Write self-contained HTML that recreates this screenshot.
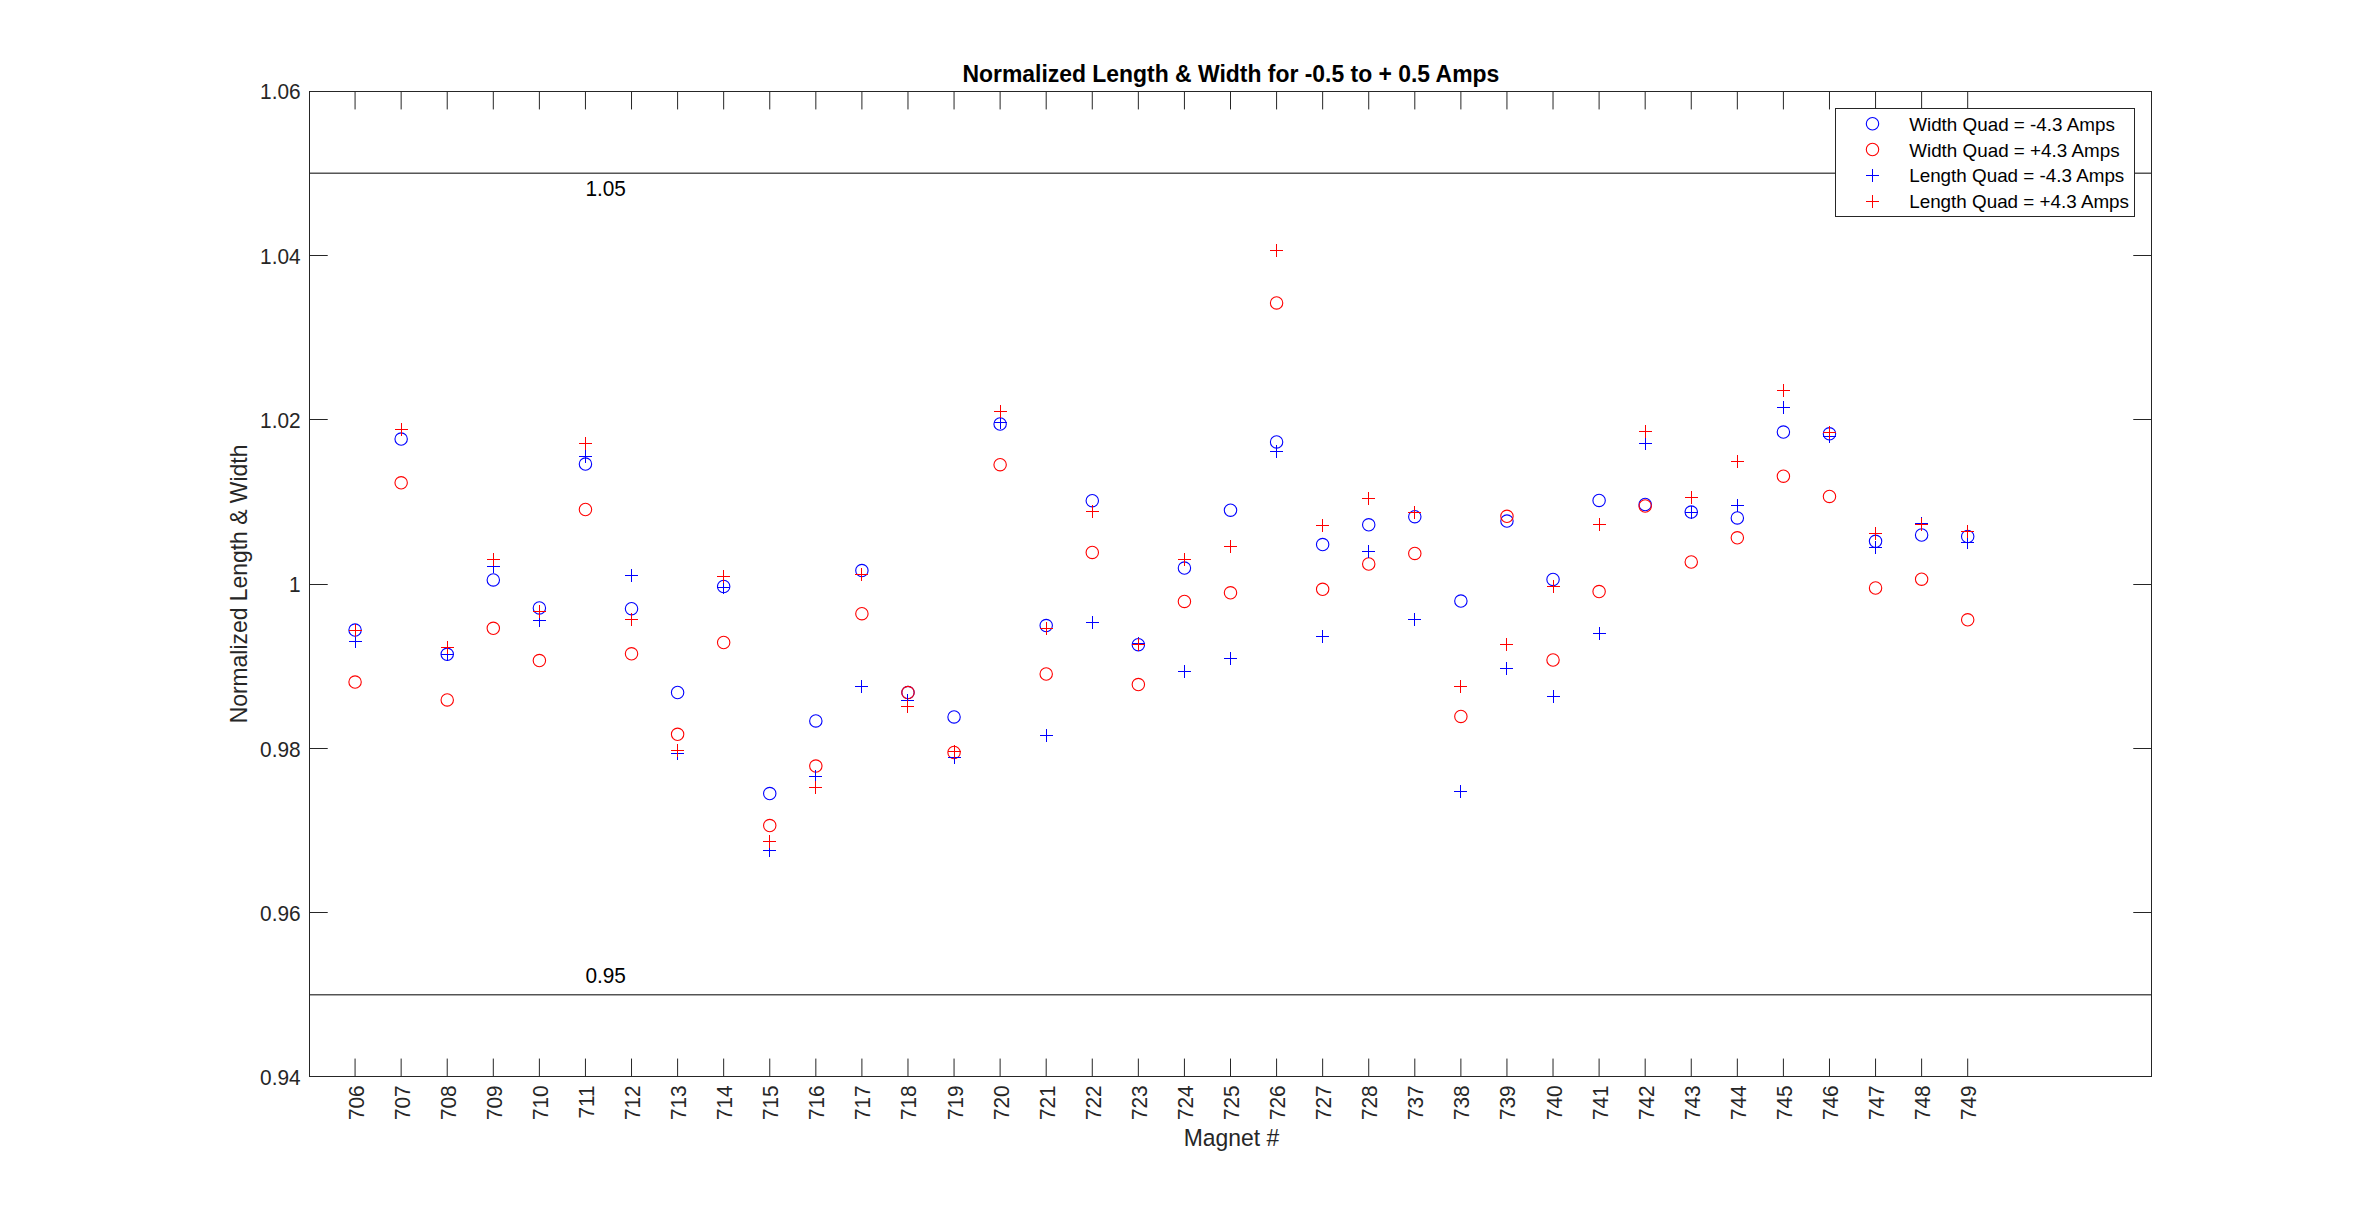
<!DOCTYPE html>
<html><head><meta charset="utf-8"><title>Normalized Length &amp; Width</title>
<style>html,body{margin:0;padding:0;background:#fff;overflow:hidden}svg{display:block}text{font-family:"Liberation Sans",sans-serif}</style></head><body>
<svg width="2378" height="1210" viewBox="0 0 2378 1210">
<rect width="2378" height="1210" fill="#fff"/>
<line x1="309.0" x2="2152.0" y1="173.17" y2="173.17" stroke="#000" stroke-width="1"/>
<line x1="309.0" x2="2152.0" y1="994.83" y2="994.83" stroke="#000" stroke-width="1"/>
<path d="M355.07 1077.0v-18.43M355.07 91.0v18.43M401.15 1077.0v-18.43M401.15 91.0v18.43M447.23 1077.0v-18.43M447.23 91.0v18.43M493.3 1077.0v-18.43M493.3 91.0v18.43M539.38 1077.0v-18.43M539.38 91.0v18.43M585.45 1077.0v-18.43M585.45 91.0v18.43M631.53 1077.0v-18.43M631.53 91.0v18.43M677.6 1077.0v-18.43M677.6 91.0v18.43M723.67 1077.0v-18.43M723.67 91.0v18.43M769.75 1077.0v-18.43M769.75 91.0v18.43M815.83 1077.0v-18.43M815.83 91.0v18.43M861.9 1077.0v-18.43M861.9 91.0v18.43M907.98 1077.0v-18.43M907.98 91.0v18.43M954.05 1077.0v-18.43M954.05 91.0v18.43M1000.12 1077.0v-18.43M1000.12 91.0v18.43M1046.2 1077.0v-18.43M1046.2 91.0v18.43M1092.28 1077.0v-18.43M1092.28 91.0v18.43M1138.35 1077.0v-18.43M1138.35 91.0v18.43M1184.43 1077.0v-18.43M1184.43 91.0v18.43M1230.5 1077.0v-18.43M1230.5 91.0v18.43M1276.58 1077.0v-18.43M1276.58 91.0v18.43M1322.65 1077.0v-18.43M1322.65 91.0v18.43M1368.73 1077.0v-18.43M1368.73 91.0v18.43M1414.8 1077.0v-18.43M1414.8 91.0v18.43M1460.88 1077.0v-18.43M1460.88 91.0v18.43M1506.95 1077.0v-18.43M1506.95 91.0v18.43M1553.03 1077.0v-18.43M1553.03 91.0v18.43M1599.1 1077.0v-18.43M1599.1 91.0v18.43M1645.18 1077.0v-18.43M1645.18 91.0v18.43M1691.25 1077.0v-18.43M1691.25 91.0v18.43M1737.33 1077.0v-18.43M1737.33 91.0v18.43M1783.4 1077.0v-18.43M1783.4 91.0v18.43M1829.48 1077.0v-18.43M1829.48 91.0v18.43M1875.55 1077.0v-18.43M1875.55 91.0v18.43M1921.62 1077.0v-18.43M1921.62 91.0v18.43M1967.7 1077.0v-18.43M1967.7 91.0v18.43M309.0 912.5h18.73M2152.0 912.5h-18.73M309.0 748.5h18.73M2152.0 748.5h-18.73M309.0 584.5h18.73M2152.0 584.5h-18.73M309.0 419.5h18.73M2152.0 419.5h-18.73M309.0 255.5h18.73M2152.0 255.5h-18.73" stroke="#262626" stroke-width="1" fill="none"/>
<rect x="309.5" y="91.5" width="1842.0" height="985.0" fill="none" stroke="#262626" stroke-width="1" shape-rendering="crispEdges"/>
<text transform="translate(300.6 1085.20) scale(1 1.05)" font-size="20.83" fill="#262626" text-anchor="end">0.94</text>
<text transform="translate(300.6 920.87) scale(1 1.05)" font-size="20.83" fill="#262626" text-anchor="end">0.96</text>
<text transform="translate(300.6 756.53) scale(1 1.05)" font-size="20.83" fill="#262626" text-anchor="end">0.98</text>
<text transform="translate(300.6 592.20) scale(1 1.05)" font-size="20.83" fill="#262626" text-anchor="end">1</text>
<text transform="translate(300.6 427.87) scale(1 1.05)" font-size="20.83" fill="#262626" text-anchor="end">1.02</text>
<text transform="translate(300.6 263.53) scale(1 1.05)" font-size="20.83" fill="#262626" text-anchor="end">1.04</text>
<text transform="translate(300.6 99.20) scale(1 1.05)" font-size="20.83" fill="#262626" text-anchor="end">1.06</text>
<text transform="translate(363.57 1085.3) rotate(-90) scale(1 1.05)" font-size="20.83" fill="#262626" text-anchor="end">706</text>
<text transform="translate(409.65 1085.3) rotate(-90) scale(1 1.05)" font-size="20.83" fill="#262626" text-anchor="end">707</text>
<text transform="translate(455.73 1085.3) rotate(-90) scale(1 1.05)" font-size="20.83" fill="#262626" text-anchor="end">708</text>
<text transform="translate(501.80 1085.3) rotate(-90) scale(1 1.05)" font-size="20.83" fill="#262626" text-anchor="end">709</text>
<text transform="translate(547.88 1085.3) rotate(-90) scale(1 1.05)" font-size="20.83" fill="#262626" text-anchor="end">710</text>
<text transform="translate(593.95 1085.3) rotate(-90) scale(1 1.05)" font-size="20.83" fill="#262626" text-anchor="end">711</text>
<text transform="translate(640.03 1085.3) rotate(-90) scale(1 1.05)" font-size="20.83" fill="#262626" text-anchor="end">712</text>
<text transform="translate(686.10 1085.3) rotate(-90) scale(1 1.05)" font-size="20.83" fill="#262626" text-anchor="end">713</text>
<text transform="translate(732.17 1085.3) rotate(-90) scale(1 1.05)" font-size="20.83" fill="#262626" text-anchor="end">714</text>
<text transform="translate(778.25 1085.3) rotate(-90) scale(1 1.05)" font-size="20.83" fill="#262626" text-anchor="end">715</text>
<text transform="translate(824.33 1085.3) rotate(-90) scale(1 1.05)" font-size="20.83" fill="#262626" text-anchor="end">716</text>
<text transform="translate(870.40 1085.3) rotate(-90) scale(1 1.05)" font-size="20.83" fill="#262626" text-anchor="end">717</text>
<text transform="translate(916.48 1085.3) rotate(-90) scale(1 1.05)" font-size="20.83" fill="#262626" text-anchor="end">718</text>
<text transform="translate(962.55 1085.3) rotate(-90) scale(1 1.05)" font-size="20.83" fill="#262626" text-anchor="end">719</text>
<text transform="translate(1008.62 1085.3) rotate(-90) scale(1 1.05)" font-size="20.83" fill="#262626" text-anchor="end">720</text>
<text transform="translate(1054.70 1085.3) rotate(-90) scale(1 1.05)" font-size="20.83" fill="#262626" text-anchor="end">721</text>
<text transform="translate(1100.78 1085.3) rotate(-90) scale(1 1.05)" font-size="20.83" fill="#262626" text-anchor="end">722</text>
<text transform="translate(1146.85 1085.3) rotate(-90) scale(1 1.05)" font-size="20.83" fill="#262626" text-anchor="end">723</text>
<text transform="translate(1192.93 1085.3) rotate(-90) scale(1 1.05)" font-size="20.83" fill="#262626" text-anchor="end">724</text>
<text transform="translate(1239.00 1085.3) rotate(-90) scale(1 1.05)" font-size="20.83" fill="#262626" text-anchor="end">725</text>
<text transform="translate(1285.08 1085.3) rotate(-90) scale(1 1.05)" font-size="20.83" fill="#262626" text-anchor="end">726</text>
<text transform="translate(1331.15 1085.3) rotate(-90) scale(1 1.05)" font-size="20.83" fill="#262626" text-anchor="end">727</text>
<text transform="translate(1377.23 1085.3) rotate(-90) scale(1 1.05)" font-size="20.83" fill="#262626" text-anchor="end">728</text>
<text transform="translate(1423.30 1085.3) rotate(-90) scale(1 1.05)" font-size="20.83" fill="#262626" text-anchor="end">737</text>
<text transform="translate(1469.38 1085.3) rotate(-90) scale(1 1.05)" font-size="20.83" fill="#262626" text-anchor="end">738</text>
<text transform="translate(1515.45 1085.3) rotate(-90) scale(1 1.05)" font-size="20.83" fill="#262626" text-anchor="end">739</text>
<text transform="translate(1561.53 1085.3) rotate(-90) scale(1 1.05)" font-size="20.83" fill="#262626" text-anchor="end">740</text>
<text transform="translate(1607.60 1085.3) rotate(-90) scale(1 1.05)" font-size="20.83" fill="#262626" text-anchor="end">741</text>
<text transform="translate(1653.68 1085.3) rotate(-90) scale(1 1.05)" font-size="20.83" fill="#262626" text-anchor="end">742</text>
<text transform="translate(1699.75 1085.3) rotate(-90) scale(1 1.05)" font-size="20.83" fill="#262626" text-anchor="end">743</text>
<text transform="translate(1745.83 1085.3) rotate(-90) scale(1 1.05)" font-size="20.83" fill="#262626" text-anchor="end">744</text>
<text transform="translate(1791.90 1085.3) rotate(-90) scale(1 1.05)" font-size="20.83" fill="#262626" text-anchor="end">745</text>
<text transform="translate(1837.98 1085.3) rotate(-90) scale(1 1.05)" font-size="20.83" fill="#262626" text-anchor="end">746</text>
<text transform="translate(1884.05 1085.3) rotate(-90) scale(1 1.05)" font-size="20.83" fill="#262626" text-anchor="end">747</text>
<text transform="translate(1930.12 1085.3) rotate(-90) scale(1 1.05)" font-size="20.83" fill="#262626" text-anchor="end">748</text>
<text transform="translate(1976.20 1085.3) rotate(-90) scale(1 1.05)" font-size="20.83" fill="#262626" text-anchor="end">749</text>
<text transform="translate(1231.4 1146) scale(1 1.025)" font-size="22.92" fill="#262626" text-anchor="middle">Magnet #</text>
<text transform="translate(247 584.0) rotate(-90) scale(1 1.025)" font-size="22.92" fill="#262626" text-anchor="middle">Normalized Length &amp; Width</text>
<text transform="translate(1230.9 82.1) scale(1 1.02)" font-size="22.92" font-weight="bold" fill="#000" text-anchor="middle">Normalized Length &amp; Width for -0.5 to + 0.5 Amps</text>
<text transform="translate(585.4 196.2) scale(1 1.05)" font-size="20.83" fill="#000">1.05</text>
<text transform="translate(585.4 983.3) scale(1 1.05)" font-size="20.83" fill="#000">0.95</text>
<circle cx="355.07" cy="630.10" r="6.2" fill="none" stroke="#0000ff" stroke-width="1.1"/>
<circle cx="401.15" cy="439.10" r="6.2" fill="none" stroke="#0000ff" stroke-width="1.1"/>
<circle cx="447.23" cy="654.30" r="6.2" fill="none" stroke="#0000ff" stroke-width="1.1"/>
<circle cx="493.30" cy="579.90" r="6.2" fill="none" stroke="#0000ff" stroke-width="1.1"/>
<circle cx="539.38" cy="607.90" r="6.2" fill="none" stroke="#0000ff" stroke-width="1.1"/>
<circle cx="585.45" cy="464.10" r="6.2" fill="none" stroke="#0000ff" stroke-width="1.1"/>
<circle cx="631.53" cy="608.70" r="6.2" fill="none" stroke="#0000ff" stroke-width="1.1"/>
<circle cx="677.60" cy="692.50" r="6.2" fill="none" stroke="#0000ff" stroke-width="1.1"/>
<circle cx="723.67" cy="586.50" r="6.2" fill="none" stroke="#0000ff" stroke-width="1.1"/>
<circle cx="769.75" cy="793.60" r="6.2" fill="none" stroke="#0000ff" stroke-width="1.1"/>
<circle cx="815.83" cy="720.90" r="6.2" fill="none" stroke="#0000ff" stroke-width="1.1"/>
<circle cx="861.90" cy="570.60" r="6.2" fill="none" stroke="#0000ff" stroke-width="1.1"/>
<circle cx="907.98" cy="692.60" r="6.2" fill="none" stroke="#0000ff" stroke-width="1.1"/>
<circle cx="954.05" cy="716.90" r="6.2" fill="none" stroke="#0000ff" stroke-width="1.1"/>
<circle cx="1000.12" cy="424.00" r="6.2" fill="none" stroke="#0000ff" stroke-width="1.1"/>
<circle cx="1046.20" cy="625.60" r="6.2" fill="none" stroke="#0000ff" stroke-width="1.1"/>
<circle cx="1092.28" cy="500.70" r="6.2" fill="none" stroke="#0000ff" stroke-width="1.1"/>
<circle cx="1138.35" cy="644.70" r="6.2" fill="none" stroke="#0000ff" stroke-width="1.1"/>
<circle cx="1184.43" cy="568.10" r="6.2" fill="none" stroke="#0000ff" stroke-width="1.1"/>
<circle cx="1230.50" cy="510.20" r="6.2" fill="none" stroke="#0000ff" stroke-width="1.1"/>
<circle cx="1276.58" cy="441.90" r="6.2" fill="none" stroke="#0000ff" stroke-width="1.1"/>
<circle cx="1322.65" cy="544.60" r="6.2" fill="none" stroke="#0000ff" stroke-width="1.1"/>
<circle cx="1368.73" cy="524.80" r="6.2" fill="none" stroke="#0000ff" stroke-width="1.1"/>
<circle cx="1414.80" cy="516.70" r="6.2" fill="none" stroke="#0000ff" stroke-width="1.1"/>
<circle cx="1460.88" cy="601.10" r="6.2" fill="none" stroke="#0000ff" stroke-width="1.1"/>
<circle cx="1506.95" cy="521.10" r="6.2" fill="none" stroke="#0000ff" stroke-width="1.1"/>
<circle cx="1553.03" cy="579.40" r="6.2" fill="none" stroke="#0000ff" stroke-width="1.1"/>
<circle cx="1599.10" cy="500.40" r="6.2" fill="none" stroke="#0000ff" stroke-width="1.1"/>
<circle cx="1645.18" cy="504.50" r="6.2" fill="none" stroke="#0000ff" stroke-width="1.1"/>
<circle cx="1691.25" cy="512.10" r="6.2" fill="none" stroke="#0000ff" stroke-width="1.1"/>
<circle cx="1737.33" cy="517.90" r="6.2" fill="none" stroke="#0000ff" stroke-width="1.1"/>
<circle cx="1783.40" cy="432.10" r="6.2" fill="none" stroke="#0000ff" stroke-width="1.1"/>
<circle cx="1829.48" cy="433.80" r="6.2" fill="none" stroke="#0000ff" stroke-width="1.1"/>
<circle cx="1875.55" cy="541.30" r="6.2" fill="none" stroke="#0000ff" stroke-width="1.1"/>
<circle cx="1921.62" cy="535.00" r="6.2" fill="none" stroke="#0000ff" stroke-width="1.1"/>
<circle cx="1967.70" cy="536.50" r="6.2" fill="none" stroke="#0000ff" stroke-width="1.1"/>
<circle cx="355.07" cy="682.10" r="6.2" fill="none" stroke="#ff0000" stroke-width="1.1"/>
<circle cx="401.15" cy="482.80" r="6.2" fill="none" stroke="#ff0000" stroke-width="1.1"/>
<circle cx="447.23" cy="699.90" r="6.2" fill="none" stroke="#ff0000" stroke-width="1.1"/>
<circle cx="493.30" cy="628.30" r="6.2" fill="none" stroke="#ff0000" stroke-width="1.1"/>
<circle cx="539.38" cy="660.60" r="6.2" fill="none" stroke="#ff0000" stroke-width="1.1"/>
<circle cx="585.45" cy="509.50" r="6.2" fill="none" stroke="#ff0000" stroke-width="1.1"/>
<circle cx="631.53" cy="653.80" r="6.2" fill="none" stroke="#ff0000" stroke-width="1.1"/>
<circle cx="677.60" cy="734.30" r="6.2" fill="none" stroke="#ff0000" stroke-width="1.1"/>
<circle cx="723.67" cy="642.50" r="6.2" fill="none" stroke="#ff0000" stroke-width="1.1"/>
<circle cx="769.75" cy="825.60" r="6.2" fill="none" stroke="#ff0000" stroke-width="1.1"/>
<circle cx="815.83" cy="766.10" r="6.2" fill="none" stroke="#ff0000" stroke-width="1.1"/>
<circle cx="861.90" cy="613.70" r="6.2" fill="none" stroke="#ff0000" stroke-width="1.1"/>
<circle cx="907.98" cy="692.60" r="6.2" fill="none" stroke="#ff0000" stroke-width="1.1"/>
<circle cx="954.05" cy="752.50" r="6.2" fill="none" stroke="#ff0000" stroke-width="1.1"/>
<circle cx="1000.12" cy="464.70" r="6.2" fill="none" stroke="#ff0000" stroke-width="1.1"/>
<circle cx="1046.20" cy="674.00" r="6.2" fill="none" stroke="#ff0000" stroke-width="1.1"/>
<circle cx="1092.28" cy="552.40" r="6.2" fill="none" stroke="#ff0000" stroke-width="1.1"/>
<circle cx="1138.35" cy="684.60" r="6.2" fill="none" stroke="#ff0000" stroke-width="1.1"/>
<circle cx="1184.43" cy="601.40" r="6.2" fill="none" stroke="#ff0000" stroke-width="1.1"/>
<circle cx="1230.50" cy="592.80" r="6.2" fill="none" stroke="#ff0000" stroke-width="1.1"/>
<circle cx="1276.58" cy="302.90" r="6.2" fill="none" stroke="#ff0000" stroke-width="1.1"/>
<circle cx="1322.65" cy="589.30" r="6.2" fill="none" stroke="#ff0000" stroke-width="1.1"/>
<circle cx="1368.73" cy="564.00" r="6.2" fill="none" stroke="#ff0000" stroke-width="1.1"/>
<circle cx="1414.80" cy="553.40" r="6.2" fill="none" stroke="#ff0000" stroke-width="1.1"/>
<circle cx="1460.88" cy="716.40" r="6.2" fill="none" stroke="#ff0000" stroke-width="1.1"/>
<circle cx="1506.95" cy="516.30" r="6.2" fill="none" stroke="#ff0000" stroke-width="1.1"/>
<circle cx="1553.03" cy="660.00" r="6.2" fill="none" stroke="#ff0000" stroke-width="1.1"/>
<circle cx="1599.10" cy="591.60" r="6.2" fill="none" stroke="#ff0000" stroke-width="1.1"/>
<circle cx="1645.18" cy="506.00" r="6.2" fill="none" stroke="#ff0000" stroke-width="1.1"/>
<circle cx="1691.25" cy="562.00" r="6.2" fill="none" stroke="#ff0000" stroke-width="1.1"/>
<circle cx="1737.33" cy="537.80" r="6.2" fill="none" stroke="#ff0000" stroke-width="1.1"/>
<circle cx="1783.40" cy="476.20" r="6.2" fill="none" stroke="#ff0000" stroke-width="1.1"/>
<circle cx="1829.48" cy="496.40" r="6.2" fill="none" stroke="#ff0000" stroke-width="1.1"/>
<circle cx="1875.55" cy="588.00" r="6.2" fill="none" stroke="#ff0000" stroke-width="1.1"/>
<circle cx="1921.62" cy="579.20" r="6.2" fill="none" stroke="#ff0000" stroke-width="1.1"/>
<circle cx="1967.70" cy="619.80" r="6.2" fill="none" stroke="#ff0000" stroke-width="1.1"/>
<path d="M349.0 641.5h13M355.5 635.0v13" stroke="#0000ff" stroke-width="1" fill="none" shape-rendering="crispEdges"/>
<path d="M395.0 429.5h13M401.5 423.0v13" stroke="#0000ff" stroke-width="1" fill="none" shape-rendering="crispEdges"/>
<path d="M441.0 654.5h13M447.5 648.0v13" stroke="#0000ff" stroke-width="1" fill="none" shape-rendering="crispEdges"/>
<path d="M487.0 566.5h13M493.5 560.0v13" stroke="#0000ff" stroke-width="1" fill="none" shape-rendering="crispEdges"/>
<path d="M533.0 620.5h13M539.5 614.0v13" stroke="#0000ff" stroke-width="1" fill="none" shape-rendering="crispEdges"/>
<path d="M579.0 456.5h13M585.5 450.0v13" stroke="#0000ff" stroke-width="1" fill="none" shape-rendering="crispEdges"/>
<path d="M625.0 575.5h13M631.5 569.0v13" stroke="#0000ff" stroke-width="1" fill="none" shape-rendering="crispEdges"/>
<path d="M671.0 753.5h13M677.5 747.0v13" stroke="#0000ff" stroke-width="1" fill="none" shape-rendering="crispEdges"/>
<path d="M717.0 587.5h13M723.5 581.0v13" stroke="#0000ff" stroke-width="1" fill="none" shape-rendering="crispEdges"/>
<path d="M763.0 850.5h13M769.5 844.0v13" stroke="#0000ff" stroke-width="1" fill="none" shape-rendering="crispEdges"/>
<path d="M809.0 776.5h13M815.5 770.0v13" stroke="#0000ff" stroke-width="1" fill="none" shape-rendering="crispEdges"/>
<path d="M855.0 686.5h13M861.5 680.0v13" stroke="#0000ff" stroke-width="1" fill="none" shape-rendering="crispEdges"/>
<path d="M901.0 700.5h13M907.5 694.0v13" stroke="#0000ff" stroke-width="1" fill="none" shape-rendering="crispEdges"/>
<path d="M948.0 757.5h13M954.5 751.0v13" stroke="#0000ff" stroke-width="1" fill="none" shape-rendering="crispEdges"/>
<path d="M994.0 422.5h13M1000.5 416.0v13" stroke="#0000ff" stroke-width="1" fill="none" shape-rendering="crispEdges"/>
<path d="M1040.0 735.5h13M1046.5 729.0v13" stroke="#0000ff" stroke-width="1" fill="none" shape-rendering="crispEdges"/>
<path d="M1086.0 622.5h13M1092.5 616.0v13" stroke="#0000ff" stroke-width="1" fill="none" shape-rendering="crispEdges"/>
<path d="M1132.0 643.5h13M1138.5 637.0v13" stroke="#0000ff" stroke-width="1" fill="none" shape-rendering="crispEdges"/>
<path d="M1178.0 671.5h13M1184.5 665.0v13" stroke="#0000ff" stroke-width="1" fill="none" shape-rendering="crispEdges"/>
<path d="M1224.0 658.5h13M1230.5 652.0v13" stroke="#0000ff" stroke-width="1" fill="none" shape-rendering="crispEdges"/>
<path d="M1270.0 451.5h13M1276.5 445.0v13" stroke="#0000ff" stroke-width="1" fill="none" shape-rendering="crispEdges"/>
<path d="M1316.0 636.5h13M1322.5 630.0v13" stroke="#0000ff" stroke-width="1" fill="none" shape-rendering="crispEdges"/>
<path d="M1362.0 551.5h13M1368.5 545.0v13" stroke="#0000ff" stroke-width="1" fill="none" shape-rendering="crispEdges"/>
<path d="M1408.0 619.5h13M1414.5 613.0v13" stroke="#0000ff" stroke-width="1" fill="none" shape-rendering="crispEdges"/>
<path d="M1454.0 791.5h13M1460.5 785.0v13" stroke="#0000ff" stroke-width="1" fill="none" shape-rendering="crispEdges"/>
<path d="M1500.0 668.5h13M1506.5 662.0v13" stroke="#0000ff" stroke-width="1" fill="none" shape-rendering="crispEdges"/>
<path d="M1547.0 696.5h13M1553.5 690.0v13" stroke="#0000ff" stroke-width="1" fill="none" shape-rendering="crispEdges"/>
<path d="M1593.0 633.5h13M1599.5 627.0v13" stroke="#0000ff" stroke-width="1" fill="none" shape-rendering="crispEdges"/>
<path d="M1639.0 443.5h13M1645.5 437.0v13" stroke="#0000ff" stroke-width="1" fill="none" shape-rendering="crispEdges"/>
<path d="M1685.0 512.5h13M1691.5 506.0v13" stroke="#0000ff" stroke-width="1" fill="none" shape-rendering="crispEdges"/>
<path d="M1731.0 505.5h13M1737.5 499.0v13" stroke="#0000ff" stroke-width="1" fill="none" shape-rendering="crispEdges"/>
<path d="M1777.0 407.5h13M1783.5 401.0v13" stroke="#0000ff" stroke-width="1" fill="none" shape-rendering="crispEdges"/>
<path d="M1823.0 436.5h13M1829.5 430.0v13" stroke="#0000ff" stroke-width="1" fill="none" shape-rendering="crispEdges"/>
<path d="M1869.0 547.5h13M1875.5 541.0v13" stroke="#0000ff" stroke-width="1" fill="none" shape-rendering="crispEdges"/>
<path d="M1915.0 523.5h13M1921.5 517.0v13" stroke="#0000ff" stroke-width="1" fill="none" shape-rendering="crispEdges"/>
<path d="M1961.0 542.5h13M1967.5 536.0v13" stroke="#0000ff" stroke-width="1" fill="none" shape-rendering="crispEdges"/>
<path d="M349.0 630.5h13M355.5 624.0v13" stroke="#ff0000" stroke-width="1" fill="none" shape-rendering="crispEdges"/>
<path d="M395.0 429.5h13M401.5 423.0v13" stroke="#ff0000" stroke-width="1" fill="none" shape-rendering="crispEdges"/>
<path d="M441.0 647.5h13M447.5 641.0v13" stroke="#ff0000" stroke-width="1" fill="none" shape-rendering="crispEdges"/>
<path d="M487.0 559.5h13M493.5 553.0v13" stroke="#ff0000" stroke-width="1" fill="none" shape-rendering="crispEdges"/>
<path d="M533.0 611.5h13M539.5 605.0v13" stroke="#ff0000" stroke-width="1" fill="none" shape-rendering="crispEdges"/>
<path d="M579.0 443.5h13M585.5 437.0v13" stroke="#ff0000" stroke-width="1" fill="none" shape-rendering="crispEdges"/>
<path d="M625.0 619.5h13M631.5 613.0v13" stroke="#ff0000" stroke-width="1" fill="none" shape-rendering="crispEdges"/>
<path d="M671.0 750.5h13M677.5 744.0v13" stroke="#ff0000" stroke-width="1" fill="none" shape-rendering="crispEdges"/>
<path d="M717.0 576.5h13M723.5 570.0v13" stroke="#ff0000" stroke-width="1" fill="none" shape-rendering="crispEdges"/>
<path d="M763.0 841.5h13M769.5 835.0v13" stroke="#ff0000" stroke-width="1" fill="none" shape-rendering="crispEdges"/>
<path d="M809.0 787.5h13M815.5 781.0v13" stroke="#ff0000" stroke-width="1" fill="none" shape-rendering="crispEdges"/>
<path d="M855.0 574.5h13M861.5 568.0v13" stroke="#ff0000" stroke-width="1" fill="none" shape-rendering="crispEdges"/>
<path d="M901.0 706.5h13M907.5 700.0v13" stroke="#ff0000" stroke-width="1" fill="none" shape-rendering="crispEdges"/>
<path d="M948.0 751.5h13M954.5 745.0v13" stroke="#ff0000" stroke-width="1" fill="none" shape-rendering="crispEdges"/>
<path d="M994.0 411.5h13M1000.5 405.0v13" stroke="#ff0000" stroke-width="1" fill="none" shape-rendering="crispEdges"/>
<path d="M1040.0 628.5h13M1046.5 622.0v13" stroke="#ff0000" stroke-width="1" fill="none" shape-rendering="crispEdges"/>
<path d="M1086.0 511.5h13M1092.5 505.0v13" stroke="#ff0000" stroke-width="1" fill="none" shape-rendering="crispEdges"/>
<path d="M1132.0 644.5h13M1138.5 638.0v13" stroke="#ff0000" stroke-width="1" fill="none" shape-rendering="crispEdges"/>
<path d="M1178.0 559.5h13M1184.5 553.0v13" stroke="#ff0000" stroke-width="1" fill="none" shape-rendering="crispEdges"/>
<path d="M1224.0 546.5h13M1230.5 540.0v13" stroke="#ff0000" stroke-width="1" fill="none" shape-rendering="crispEdges"/>
<path d="M1270.0 250.5h13M1276.5 244.0v13" stroke="#ff0000" stroke-width="1" fill="none" shape-rendering="crispEdges"/>
<path d="M1316.0 525.5h13M1322.5 519.0v13" stroke="#ff0000" stroke-width="1" fill="none" shape-rendering="crispEdges"/>
<path d="M1362.0 498.5h13M1368.5 492.0v13" stroke="#ff0000" stroke-width="1" fill="none" shape-rendering="crispEdges"/>
<path d="M1408.0 512.5h13M1414.5 506.0v13" stroke="#ff0000" stroke-width="1" fill="none" shape-rendering="crispEdges"/>
<path d="M1454.0 686.5h13M1460.5 680.0v13" stroke="#ff0000" stroke-width="1" fill="none" shape-rendering="crispEdges"/>
<path d="M1500.0 644.5h13M1506.5 638.0v13" stroke="#ff0000" stroke-width="1" fill="none" shape-rendering="crispEdges"/>
<path d="M1547.0 586.5h13M1553.5 580.0v13" stroke="#ff0000" stroke-width="1" fill="none" shape-rendering="crispEdges"/>
<path d="M1593.0 524.5h13M1599.5 518.0v13" stroke="#ff0000" stroke-width="1" fill="none" shape-rendering="crispEdges"/>
<path d="M1639.0 431.5h13M1645.5 425.0v13" stroke="#ff0000" stroke-width="1" fill="none" shape-rendering="crispEdges"/>
<path d="M1685.0 497.5h13M1691.5 491.0v13" stroke="#ff0000" stroke-width="1" fill="none" shape-rendering="crispEdges"/>
<path d="M1731.0 461.5h13M1737.5 455.0v13" stroke="#ff0000" stroke-width="1" fill="none" shape-rendering="crispEdges"/>
<path d="M1777.0 390.5h13M1783.5 384.0v13" stroke="#ff0000" stroke-width="1" fill="none" shape-rendering="crispEdges"/>
<path d="M1823.0 432.5h13M1829.5 426.0v13" stroke="#ff0000" stroke-width="1" fill="none" shape-rendering="crispEdges"/>
<path d="M1869.0 533.5h13M1875.5 527.0v13" stroke="#ff0000" stroke-width="1" fill="none" shape-rendering="crispEdges"/>
<path d="M1915.0 524.5h13M1921.5 518.0v13" stroke="#ff0000" stroke-width="1" fill="none" shape-rendering="crispEdges"/>
<path d="M1961.0 531.5h13M1967.5 525.0v13" stroke="#ff0000" stroke-width="1" fill="none" shape-rendering="crispEdges"/>
<rect x="1835.5" y="108.5" width="299.0" height="108.0" fill="#fff" stroke="#262626" stroke-width="1" shape-rendering="crispEdges"/>
<circle cx="1872.50" cy="123.75" r="6.2" fill="none" stroke="#0000ff" stroke-width="1.1"/>
<circle cx="1872.50" cy="149.50" r="6.2" fill="none" stroke="#ff0000" stroke-width="1.1"/>
<path d="M1866.0 175.5h13M1872.5 169.0v13" stroke="#0000ff" stroke-width="1" fill="none" shape-rendering="crispEdges"/>
<path d="M1866.0 201.5h13M1872.5 195.0v13" stroke="#ff0000" stroke-width="1" fill="none" shape-rendering="crispEdges"/>
<text transform="translate(1909.2 131.0) scale(1 1.02)" font-size="18.85" fill="#000">Width Quad = -4.3 Amps</text>
<text transform="translate(1909.2 157.1) scale(1 1.02)" font-size="18.85" fill="#000">Width Quad = +4.3 Amps</text>
<text transform="translate(1909.2 181.9) scale(1 1.02)" font-size="18.85" fill="#000">Length Quad = -4.3 Amps</text>
<text transform="translate(1909.2 207.8) scale(1 1.02)" font-size="18.85" fill="#000">Length Quad = +4.3 Amps</text>
</svg></body></html>
